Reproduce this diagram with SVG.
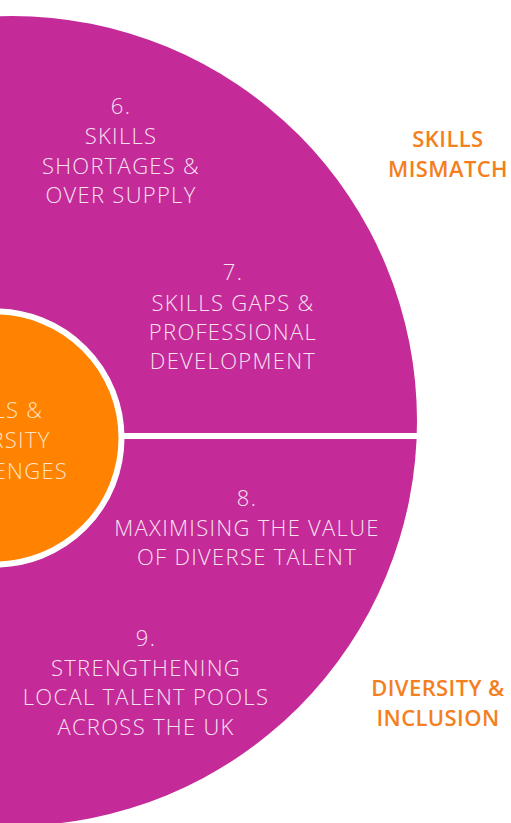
<svg xmlns="http://www.w3.org/2000/svg" width="511" height="823" viewBox="0 0 511 823">
  <style>
    .seg { font-family: "Open Sans", "Liberation Sans", sans-serif; font-weight: 300; font-size: 22px; letter-spacing: 1.3px; fill: #f7e2f2; text-anchor: middle; }
    .ctr { font-family: "Open Sans", "Liberation Sans", sans-serif; font-weight: 300; font-size: 22px; letter-spacing: 1.3px; fill: #ffe3c4; text-anchor: middle; }
    .lbl { font-family: "Open Sans", "Liberation Sans", sans-serif; font-weight: 600; font-size: 22px; letter-spacing: 0.4px; fill: #f47f1f; text-anchor: middle; }
  </style>
  <rect width="511" height="823" fill="#ffffff"/>
  <g id="outer-ring">
    <circle cx="12" cy="421" r="405" fill="#c42a98"/>
  </g>
  <g id="dividers">
    <line x1="120" y1="436" x2="425" y2="436" stroke="#ffffff" stroke-width="6"/>
  </g>
  <g id="center">
    <circle cx="-5" cy="438" r="126.5" fill="#ff8200" stroke="#ffffff" stroke-width="6"/>
    <text class="ctr" x="-5" y="418">SKILLS &amp;</text>
    <text class="ctr" x="-5" y="448">DIVERSITY</text>
    <text class="ctr" x="-5" y="479">CHALLENGES</text>
  </g>
  <g id="seg-6">
    <text class="seg" x="121" y="114">6.</text>
    <text class="seg" x="121" y="144">SKILLS</text>
    <text class="seg" x="121" y="173.5">SHORTAGES &amp;</text>
    <text class="seg" x="121" y="203">OVER SUPPLY</text>
  </g>
  <g id="seg-7">
    <text class="seg" x="233" y="280">7.</text>
    <text class="seg" x="233" y="310.5">SKILLS GAPS &amp;</text>
    <text class="seg" x="233" y="340">PROFESSIONAL</text>
    <text class="seg" x="233" y="368.5">DEVELOPMENT</text>
  </g>
  <g id="seg-8">
    <text class="seg" x="247" y="506">8.</text>
    <text class="seg" x="247" y="535.5">MAXIMISING THE VALUE</text>
    <text class="seg" x="247" y="565">OF DIVERSE TALENT</text>
  </g>
  <g id="seg-9">
    <text class="seg" x="146" y="646">9.</text>
    <text class="seg" x="146" y="675.5">STRENGTHENING</text>
    <text class="seg" x="146" y="705">LOCAL TALENT POOLS</text>
    <text class="seg" x="146" y="735">ACROSS THE UK</text>
  </g>
  <g id="label-skills-mismatch">
    <text class="lbl" x="448" y="147">SKILLS</text>
    <text class="lbl" x="448" y="176.5">MISMATCH</text>
  </g>
  <g id="label-diversity-inclusion">
    <text class="lbl" x="438" y="696">DIVERSITY &amp;</text>
    <text class="lbl" x="438" y="725.5">INCLUSION</text>
  </g>
</svg>
